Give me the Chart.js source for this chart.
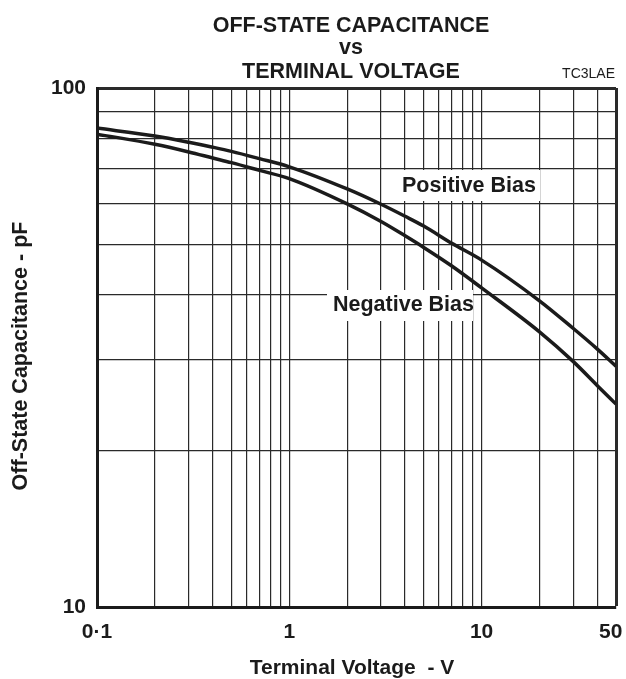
<!DOCTYPE html>
<html>
<head>
<meta charset="utf-8">
<script src="https://cdn.jsdelivr.net/npm/chart.js@4/dist/chart.umd.min.js"></script>
<style>
  html, body { margin: 0; padding: 0; background: #fff; }
  #wrap { width: 626px; height: 679px; position: relative; }
</style>
</head>
<body>
<div id="wrap"><canvas id="c"></canvas></div>
<script>
// terminal voltage (V) sample points
const voltage = [0.1, 0.2, 0.3, 0.4, 0.5, 0.7, 1, 2, 3, 4, 5, 7, 10, 20, 30, 40, 50];
// off-state capacitance (pF)
const positiveBias = [83.7, 80.8, 78.6, 76.9, 75.5, 73.1, 70.5, 63.9, 59.7, 56.6, 54.2, 50.2, 46.6, 38.9, 34.4, 31.4, 29.1];
const negativeBias = [81.5, 77.9, 75.3, 73.3, 71.8, 69.4, 66.9, 59.8, 55.3, 51.9, 49.3, 45.4, 41.2, 33.9, 29.7, 26.7, 24.6];

// grid lines and labelled ticks ("50" carries an en space so it sits inside the page edge)
const xGrid = [0.1, 0.2, 0.3, 0.4, 0.5, 0.6, 0.7, 0.8, 0.9, 1, 2, 3, 4, 5, 6, 7, 8, 9, 10, 20, 30, 40, 50];
const xTickLabels = { 0.1: "0·1", 1: "1", 10: "10", 50: "50\u2002" };
const yGrid = [10, 20, 30, 40, 50, 60, 70, 80, 90, 100];
const yTickLabels = { 10: "10", 100: "100" };

const FONT = "'Liberation Sans', Arial, Helvetica, sans-serif";
const INK = "#1b1b1b";

function pairs(ys) {
    return voltage.map((v, i) => ({ x: v, y: ys[i] }));
}

function labelFor(map, value) {
    for (const k of Object.keys(map)) {
        if (Math.abs(Number(k) - value) < 1e-9) return map[k];
    }
    return "";
}

// titles, code and the two curve labels
const textPlugin = {
    id: "sheetText",
    beforeDatasetsDraw(chart) {
        const ctx = chart.ctx;
        ctx.save();
        ctx.font = "bold 21.5px " + FONT;
        ctx.textBaseline = "middle";
        ctx.textAlign = "left";
        const boxes = [
            { text: "Positive Bias", x: 402, y: 186, box: [394, 170, 146, 31] },
            { text: "Negative Bias", x: 333, y: 305, box: [327, 290, 146, 31] },
        ];
        boxes.forEach((b) => {
            ctx.fillStyle = "#fff";
            ctx.fillRect(b.box[0], b.box[1], b.box[2], b.box[3]);
            ctx.fillStyle = INK;
            ctx.fillText(b.text, b.x, b.y);
        });
        ctx.restore();
    },
    afterDraw(chart) {
        const ctx = chart.ctx;
        ctx.save();
        ctx.fillStyle = INK;
        ctx.textBaseline = "middle";
        ctx.textAlign = "center";
        ctx.font = "bold 21.5px " + FONT;
        ctx.fillText("OFF-STATE CAPACITANCE", 351, 26);
        ctx.fillText("vs", 351, 48);
        ctx.fillText("TERMINAL VOLTAGE", 351, 72);
        ctx.font = "bold 21px " + FONT;
        ctx.fillText("Terminal Voltage  - V", 352, 668);

        ctx.textAlign = "right";
        ctx.font = "14px " + FONT;
        ctx.fillText("TC3LAE", 615, 74);

        ctx.translate(21, 356);
        ctx.rotate(-Math.PI / 2);
        ctx.textAlign = "center";
        ctx.font = "bold 21.5px " + FONT;
        ctx.fillText("Off-State Capacitance - pF", 0, 0);
        ctx.restore();
    },
};

new Chart(document.getElementById("c"), {
    type: "line",
    data: {
        datasets: [
            {
                label: "Positive Bias",
                data: pairs(positiveBias),
                borderColor: INK,
                borderWidth: 3.5,
                pointRadius: 0,
                cubicInterpolationMode: "monotone",
                fill: false,
            },
            {
                label: "Negative Bias",
                data: pairs(negativeBias),
                borderColor: INK,
                borderWidth: 3.5,
                pointRadius: 0,
                cubicInterpolationMode: "monotone",
                fill: false,
            },
        ],
    },
    options: {
        responsive: true,
        maintainAspectRatio: false,
        animation: false,
        layout: { padding: { top: 88, right: 10, left: 0, bottom: 0 } },
        plugins: {
            legend: { display: false },
            tooltip: { enabled: false },
            title: { display: false },
        },
        scales: {
            x: {
                type: "logarithmic",
                min: 0.1,
                max: 50,
                afterBuildTicks: (s) => { s.ticks = xGrid.map((v) => ({ value: v })); },
                afterFit: (s) => {
                    s.height = 72;
                    s.paddingLeft = 0;
                    s.paddingRight = 0;
                },
                grid: {
                    color: "#2a2a2a",
                    lineWidth: (c) => (c.tick && (c.tick.value === 50) ? 3 : 1.2),
                    drawTicks: false,
                },
                border: { color: INK, width: 3 },
                ticks: {
                    autoSkip: false,
                    maxRotation: 0,
                    padding: 13,
                    color: INK,
                    font: { family: FONT, size: 21, weight: "bold" },
                    callback: (v) => labelFor(xTickLabels, v),
                },
            },
            y: {
                type: "logarithmic",
                min: 10,
                max: 100,
                afterBuildTicks: (s) => { s.ticks = yGrid.map((v) => ({ value: v })); },
                afterFit: (s) => {
                    s.width = 97;
                    s.paddingTop = 0;
                    s.paddingBottom = 0;
                },
                grid: {
                    color: "#2a2a2a",
                    lineWidth: (c) => (c.tick && (c.tick.value === 100) ? 3 : 1.2),
                    drawTicks: false,
                },
                border: { color: INK, width: 3 },
                ticks: {
                    autoSkip: false,
                    padding: 11,
                    color: INK,
                    font: { family: FONT, size: 21, weight: "bold" },
                    callback: (v) => labelFor(yTickLabels, v),
                },
            },
        },
    },
    plugins: [textPlugin],
});
</script>
</body>
</html>
